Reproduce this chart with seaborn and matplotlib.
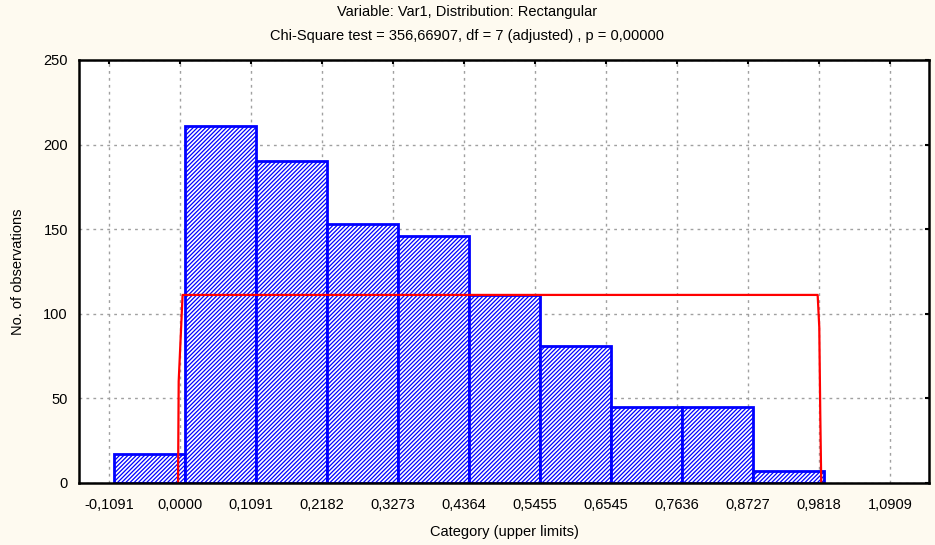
import numpy as np
import pandas as pd
import matplotlib
matplotlib.use("Agg")
import matplotlib.pyplot as plt
import seaborn as sns

# observed counts per category (upper limits)
upper_limits = [0.0000, 0.1091, 0.2182, 0.3273, 0.4364, 0.5455,
                0.6545, 0.7636, 0.8727, 0.9818]
observed = [17, 211, 190, 153, 146, 111, 81, 45, 45, 7]
bin_width = 0.10909

# expected (rectangular) curve
expected_x = [-0.003, -0.002, 0.004, 0.980, 0.9825, 0.984, 0.9855]
expected_y = [0, 60, 111.1, 111.1, 92, 41, 0]

tick_values = [-0.1091, 0.0, 0.1091, 0.2182, 0.3273, 0.4364, 0.5455,
               0.6545, 0.7636, 0.8727, 0.9818, 1.0909]
tick_labels = ['-0,1091', '0,0000', '0,1091', '0,2182', '0,3273', '0,4364',
               '0,5455', '0,6545', '0,7636', '0,8727', '0,9818', '1,0909']

sns.set_style("white")
plt.rcParams['font.family'] = ['Liberation Sans', 'DejaVu Sans']
plt.rcParams['hatch.linewidth'] = 0.9
plt.rcParams['text.color'] = 'black'
plt.rcParams['axes.labelcolor'] = 'black'
plt.rcParams['xtick.color'] = 'black'
plt.rcParams['ytick.color'] = 'black'

shift = 0.0075  # statistica draws the bars a few px right of the grid
df = pd.DataFrame({'upper': upper_limits, 'count': observed})
df['center'] = df['upper'] - bin_width / 2 + shift
edges = [u - bin_width + shift for u in upper_limits[:1]] + \
        [u + shift for u in upper_limits]

fig = plt.figure(figsize=(9.35, 5.45), dpi=100, facecolor='#fefaf0')
ax = fig.add_axes([0.0845, 0.114, 0.909, 0.776])
ax.set_facecolor('white')

sns.histplot(data=df, x='center', weights='count', bins=edges,
             ax=ax, alpha=1)
for p in ax.patches:
    p.set_facecolor('white')
    p.set_edgecolor('#0000ff')
    p.set_linewidth(2)
    p.set_hatch('////////')

sns.lineplot(x=expected_x, y=expected_y, sort=False, estimator=None,
             color='#ff0000', linewidth=1.6, ax=ax)

ax.set_xlim(-0.1552, 1.151)
ax.set_ylim(0, 250)
ax.set_xticks(tick_values)
ax.set_xticklabels(tick_labels)
ax.set_yticks([0, 50, 100, 150, 200, 250])
ax.tick_params(direction='in', length=3, width=1.5, labelsize=10.5,
               top=True, right=True)
ax.tick_params(axis='x', pad=11)
ax.tick_params(axis='y', pad=8)
ax.set_axisbelow(True)
ax.grid(True, color='#a0a0a0', linestyle=(0, (2, 3)), linewidth=1)
for s in ax.spines.values():
    s.set_visible(True)
    s.set_color('black')
    s.set_linewidth(1.8)

ax.set_xlabel('Category (upper limits)', fontsize=10.5, labelpad=9)
ax.set_ylabel('No. of observations', fontsize=10.5, labelpad=13)
fig.text(0.5, 0.978, 'Variable: Var1, Distribution: Rectangular',
         ha='center', va='center', fontsize=10.5)
fig.text(0.5, 0.934, 'Chi-Square test = 356,66907, df = 7 (adjusted) , p = 0,00000',
         ha='center', va='center', fontsize=10.5)

fig.savefig('out.png', dpi=100, facecolor=fig.get_facecolor())
